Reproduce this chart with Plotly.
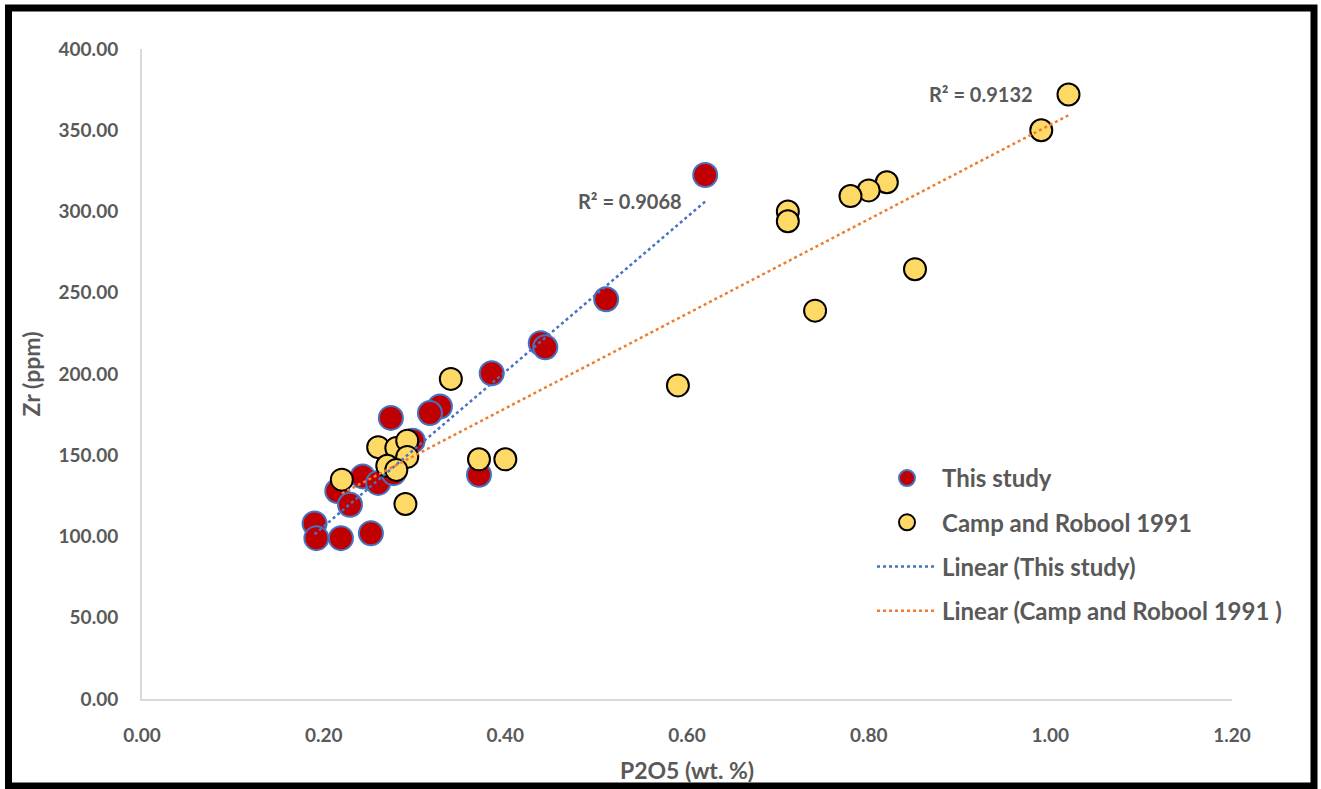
import numpy as np
import plotly.graph_objects as go

# P2O5 (wt. %) and Zr (ppm) for this study's samples
this_p2o5 = [0.62, 0.511, 0.439, 0.444, 0.385, 0.328, 0.317, 0.274, 0.298,
             0.371, 0.243, 0.260, 0.277, 0.215, 0.229, 0.190, 0.192, 0.219, 0.252]
this_zr = [322.5, 246, 219, 216.5, 200.5, 180, 176, 173, 159,
           138, 137, 133, 139, 128, 119.5, 108, 99, 99, 102]

# Camp and Robool (1991) analyses
camp_p2o5 = [1.02, 0.99, 0.82, 0.80, 0.78, 0.711, 0.711, 0.851, 0.741, 0.59,
             0.34, 0.371, 0.40, 0.29, 0.22, 0.26, 0.28, 0.292, 0.292, 0.27, 0.28]
camp_zr = [372, 350, 318, 313, 309.5, 300, 294, 264.5, 239, 193,
           197, 147.5, 147.5, 120, 135, 155, 154.5, 159, 149, 143.5, 141]

r2_labels = ["R² = 0.9068", "R² = 0.9132"]

x_ticks = [0.0, 0.2, 0.4, 0.6, 0.8, 1.0, 1.2]
y_ticks = [0, 50, 100, 150, 200, 250, 300, 350, 400]

FONT = "Lato"
GREY = "#595959"
BLUE = "#4472C4"
ORANGE = "#ED7D31"


def linear_trend(xs, ys):
    xs = np.asarray(xs, float)
    ys = np.asarray(ys, float)
    slope, intercept = np.polyfit(xs, ys, 1)
    tx = np.array([xs.min(), xs.max()])
    return tx, slope * tx + intercept


fig = go.Figure()

fig.add_trace(go.Scatter(
    x=this_p2o5, y=this_zr, mode="markers", name="This study",
    legendgroup="a",
    marker=dict(size=24, color="#C00000", line=dict(color=BLUE, width=2)),
))
fig.add_trace(go.Scatter(
    x=camp_p2o5, y=camp_zr, mode="markers", name="Camp and Robool 1991",
    legendgroup="b",
    marker=dict(size=22, color="#FFD966", line=dict(color="#000000", width=2)),
))

tx, ty = linear_trend(this_p2o5, this_zr)
fig.add_trace(go.Scatter(
    x=tx, y=ty, mode="lines", name="Linear (This study)", legendgroup="c",
    line=dict(color=BLUE, width=2.5, dash="dot"),
))
tx, ty = linear_trend(camp_p2o5, camp_zr)
fig.add_trace(go.Scatter(
    x=tx, y=ty, mode="lines", name="Linear (Camp and Robool 1991 )",
    legendgroup="d",
    line=dict(color=ORANGE, width=2.5, dash="dot"),
))

r2_font = dict(family=FONT, size=20, color=GREY, weight="bold")
fig.add_annotation(x=0.537, y=306.5, text=r2_labels[0], showarrow=False,
                   font=r2_font)
fig.add_annotation(x=0.924, y=372.5, text=r2_labels[1], showarrow=False,
                   font=r2_font)

# thick black frame around the whole chart (paper coords relative to plot area)
L, R, T, B = 142, 1232, 49, 699
W, H = R - L, B - T


def px_x(p):
    return (p - L) / W


def px_y(p):
    return (B - p) / H


fig.add_shape(type="rect", xref="paper", yref="paper",
              x0=px_x(8.5), x1=px_x(1314), y0=px_y(8), y1=px_y(786),
              line=dict(color="#000000", width=7), layer="above")

tick_font = dict(family=FONT, size=19, color=GREY, weight="bold")
title_font = dict(family=FONT, size=23, color=GREY, weight="bold")

fig.update_xaxes(
    range=[0, 1.2], tickvals=x_ticks, tickformat=".2f", automargin=False,
    showgrid=False, zeroline=False, showline=True, linecolor="#D9D9D9",
    linewidth=2, ticks="", ticklabelstandoff=18, tickfont=tick_font,
    title=dict(text="P2O5 (wt. %)", font=title_font, standoff=18),
)
fig.update_yaxes(
    range=[0, 400], tickvals=y_ticks, tickformat=".2f", automargin=False,
    showgrid=False, zeroline=False, showline=True, linecolor="#D9D9D9",
    linewidth=2, ticks="", ticklabelstandoff=18, tickfont=tick_font,
    title=dict(text="Zr (ppm)", font=title_font, standoff=12),
)

fig.update_layout(
    width=1321, height=789,
    margin=dict(l=L, r=1321 - R, t=T, b=789 - B),
    paper_bgcolor="white", plot_bgcolor="white",
    legend=dict(
        x=px_x(872), y=px_y(456), xanchor="left", yanchor="top",
        font=dict(family=FONT, size=24, color=GREY, weight="bold"),
        tracegroupgap=10, traceorder="grouped", bgcolor="rgba(0,0,0,0)",
        itemwidth=60,
    ),
)

fig.write_html("out.html")
